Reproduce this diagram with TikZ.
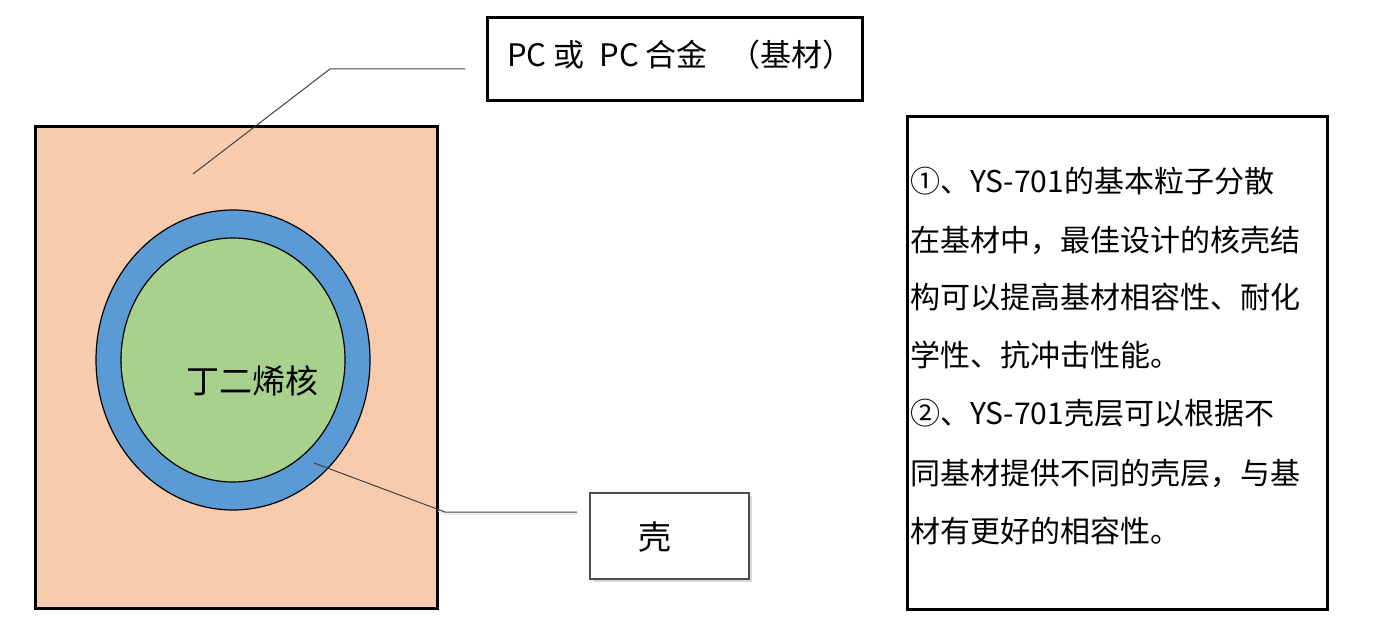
\documentclass[tikz,border=0pt]{standalone}
\usetikzlibrary{shapes.geometric}
\usepackage{fontspec}
\setmainfont{Noto Sans CJK SC}
\newfontfamily\cjk{Noto Sans CJK SC}
\definecolor{peach}{HTML}{F8CBAD}
\definecolor{shellblue}{HTML}{5B9BD5}
\definecolor{coregreen}{HTML}{A9D18E}
\begin{document}
\begin{tikzpicture}[x=1pt,y=-1pt,
  thickbox/.style={draw=black,line width=3pt},
  leader/.style={draw=black!75,line width=1pt},
  txtline/.style={anchor=west,inner sep=0pt,font=\cjk\fontsize{30}{30}\selectfont}]
\useasboundingbox (0,0) rectangle (1374,639);
% substrate
\node[thickbox,fill=peach,minimum width=402pt,minimum height=481pt,inner sep=0pt] (sub) at (236,367.5) {};
% shell and core
\node[draw=black,line width=1.2pt,fill=shellblue,ellipse,minimum width=274pt,minimum height=300pt,inner sep=0pt] (shell) at (233,360) {};
\node[draw=black,line width=1.2pt,fill=coregreen,ellipse,minimum width=224pt,minimum height=244pt,inner sep=0pt] (core) at (233,360) {};
\node[font=\cjk\fontsize{33}{33}\selectfont,inner sep=0pt] (coretxt) at (252,381) {丁二烯核};
% top label
\node[thickbox,fill=white,minimum width=375pt,minimum height=83pt,inner sep=0pt] (pcbox) at (674.5,59.5) {};
\node[font=\cjk\fontsize{31}{31}\selectfont,anchor=west,inner sep=0pt] (pctxt) at (507,55) {PC 或\hspace{15pt}PC 合金\hspace{22pt}（基材）};
\coordinate (pcA) at (465,69);
\coordinate (pcB) at (330,69);
\coordinate (pcC) at (193,174);
\draw[leader] (pcA) -- (pcB) -- (pcC);
% shell label
\fill[black!15] (593,496) rectangle (752,582);
\node[draw=black!70,line width=1.2pt,fill=white,minimum width=159pt,minimum height=86pt,inner sep=0pt] (shellbox) at (669.5,536) {};
\node[font=\cjk\fontsize{33}{33}\selectfont,inner sep=0pt] (shelltxt) at (655,537) {壳};
\coordinate (shA) at (314,463);
\coordinate (shB) at (437,509);
\coordinate (shC) at (445,512);
\coordinate (shD) at (577,512);
\draw[black!15,line width=1pt] ([shift={(1,2)}]shB) -- ([shift={(0,2)}]shC) -- ([shift={(0,2)}]shD);
\draw[leader] (shA) -- (shB) -- (shC) -- (shD);
% right text box
\node[thickbox,fill=white,minimum width=420pt,minimum height=492pt,inner sep=0pt] (descbox) at (1117,363) {};
\node[txtline] (l1) at (910,181) {①、YS-701的基本粒子分散};
\node[txtline] (l2) at (910,240) {在基材中，最佳设计的核壳结};
\node[txtline] (l3) at (910,297) {构可以提高基材相容性、耐化};
\node[txtline] (l4) at (910,355) {学性、抗冲击性能。};
\node[txtline] (l5) at (910,413) {②、YS-701壳层可以根据不};
\node[txtline] (l6) at (910,473) {同基材提供不同的壳层，与基};
\node[txtline] (l7) at (910,531) {材有更好的相容性。};
\end{tikzpicture}
\end{document}
